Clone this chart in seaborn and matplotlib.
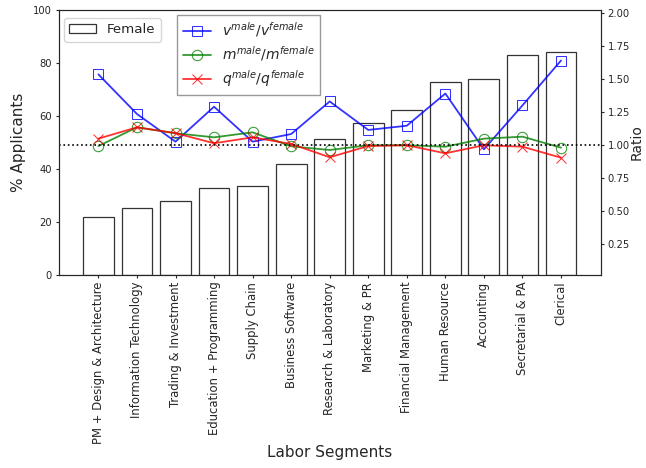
import numpy as np
import pandas as pd
import matplotlib
matplotlib.use("Agg")
import matplotlib.pyplot as plt
import seaborn as sns
from matplotlib.ticker import FormatStrFormatter

categories = ["PM + Design & Architecture", "Information Technology", "Trading & Investment",
              "Education + Programming", "Supply Chain", "Business Software",
              "Research & Laboratory", "Marketing & PR", "Financial Management",
              "Human Resource", "Accounting", "Secretarial & PA", "Clerical"]
female_pct = [21.7, 25.2, 27.8, 32.7, 33.5, 41.8, 51.4, 57.4, 62.1, 72.8, 73.9, 82.9, 84.3]
v_ratio = [1.535, 1.235, 1.025, 1.29, 1.025, 1.083, 1.33, 1.114, 1.146, 1.39, 0.967, 1.30, 1.64]
m_ratio = [0.992, 1.134, 1.089, 1.058, 1.096, 0.99, 0.962, 0.998, 0.998, 0.987, 1.048, 1.063, 0.98]
q_ratio = [1.048, 1.134, 1.09, 1.013, 1.058, 1.008, 0.907, 0.992, 0.998, 0.937, 0.998, 0.987, 0.904]

sns.set_style("ticks")
plt.rcParams['font.family'] = ['DejaVu Sans']

fig = plt.figure(figsize=(6.46, 4.68), dpi=100)
ax = fig.add_axes([58.7/646, 1-274.7/468, (600.7-58.7)/646, (274.7-10)/468])

df = pd.DataFrame({"cat": categories, "pct": female_pct})
sns.barplot(data=df, x="cat", y="pct", ax=ax, color="white", edgecolor="0.2",
            linewidth=0.9, width=0.8, label="Female")
ax.set_ylim(0, 100)
ax.set_xlim(-1.03, 13.03)
ax.set_xlabel("Labor Segments", fontsize=11, labelpad=1)
ax.set_ylabel("% Applicants", fontsize=11)
ax.yaxis.set_label_coords(-0.06, 0.5)
ax.tick_params(axis='x', labelrotation=90, labelsize=8.4, length=2.5, pad=2.5)
ax.tick_params(axis='y', labelsize=7.2, length=2.5, pad=2.5)
leg1 = ax.legend(loc="upper left", fontsize=9.6, bbox_to_anchor=(0.01, 0.97),
                 borderaxespad=0)

ax2 = ax.twinx()
xpos = np.arange(len(categories))
ldf = pd.DataFrame({"x": xpos, "v": v_ratio, "m": m_ratio, "q": q_ratio})
sns.lineplot(data=ldf, x="x", y="v", ax=ax2, color="blue", alpha=0.8, marker="s",
             markersize=7.2, markerfacecolor="none", markeredgecolor="blue",
             label=r"$v^{male}/v^{female}$", linewidth=1.3)
sns.lineplot(data=ldf, x="x", y="m", ax=ax2, color="green", alpha=0.8, marker="o",
             markersize=7.5, markerfacecolor="none", markeredgecolor="green",
             label=r"$m^{male}/m^{female}$", linewidth=1.3)
sns.lineplot(data=ldf, x="x", y="q", ax=ax2, color="red", alpha=0.8, marker="x",
             markersize=7.5, markeredgecolor="red",
             label=r"$q^{male}/q^{female}$", linewidth=1.3)
ax2.axhline(1.0, color="black", linestyle=":", linewidth=1.2)
ax2.set_ylim(0.017, 2.023)
ax2.set_yticks([0.25, 0.5, 0.75, 1.0, 1.25, 1.5, 1.75, 2.0])
ax2.yaxis.set_major_formatter(FormatStrFormatter("%.2f"))
ax2.tick_params(axis='y', labelsize=7.2, length=2.5, pad=2.5)
ax2.set_ylabel("Ratio", fontsize=10)
ax2.yaxis.set_label_coords(1.053, 0.5)
ax2.set_xlabel("")
ax2.set_xlim(-1.03, 13.03)
ax2.legend(loc="upper left", bbox_to_anchor=(0.219, 0.981), fontsize=10,
           labelspacing=0.35, fancybox=False, edgecolor="0.5", borderaxespad=0)

fig.savefig("out.png", dpi=100)
